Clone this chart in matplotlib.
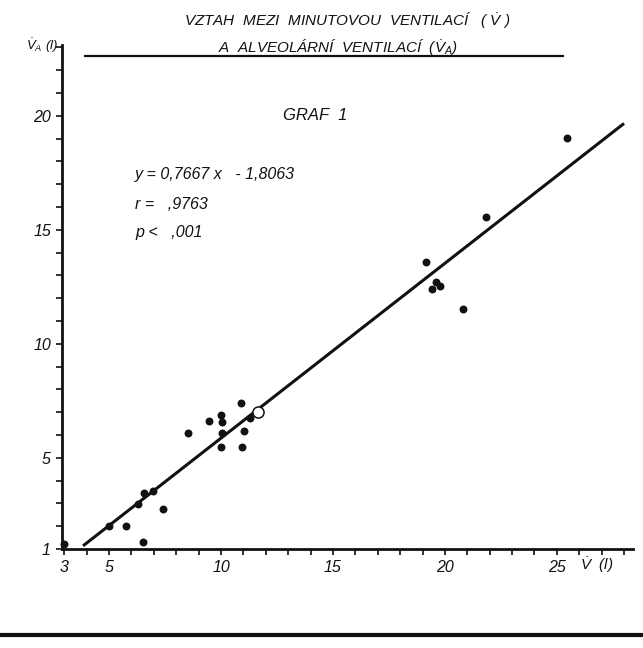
import matplotlib
matplotlib.use("Agg")
import matplotlib.pyplot as plt
import numpy as np

plt.rcParams["mathtext.fontset"] = "custom"
plt.rcParams["mathtext.it"] = "Liberation Sans:italic"
plt.rcParams["mathtext.rm"] = "Liberation Sans:italic"

# minute ventilation V (l) vs alveolar ventilation VA (l)
v_minute = [3.0, 5.0, 5.76, 6.53, 6.31, 6.58, 6.95, 7.42,
            8.53, 9.48, 10.0, 10.06, 10.06, 10.0, 10.89, 10.92, 11.04, 11.3,
            19.14, 19.58, 19.41, 19.79, 20.83, 21.83, 25.46]
v_alveolar = [1.22, 2.0, 2.02, 1.32, 2.96, 3.44, 3.56, 2.74,
              6.07, 6.63, 6.86, 6.57, 6.07, 5.46, 7.39, 5.46, 6.18, 6.73,
              13.6, 12.72, 12.39, 12.52, 11.53, 15.56, 19.03]

# regression y = 0.7667x - 1.8063 and mean point
slope = 0.7667
intercept = -1.8063
line_x = [3.84, 28.0]
mean_point = (11.67, 7.0)

x_ticks = [3, 5, 10, 15, 20, 25]
y_ticks = [1, 5, 10, 15, 20]

W, H = 643, 648
fig = plt.figure(figsize=(W / 100, H / 100), dpi=100)
fig.patch.set_facecolor("white")

def px(x, y):
    return x / W, 1 - y / H

font = dict(family="Liberation Sans", style="italic", color="#111111")

ax = fig.add_axes([62 / W, 1 - 549 / H, (633 - 62) / W, (549 - 45) / H])
ax.set_xlim(2.9, 28.4)
ax.set_ylim(1, 23.1)
for s in ["top", "right"]:
    ax.spines[s].set_visible(False)
for s in ["left", "bottom"]:
    ax.spines[s].set_linewidth(2)
    ax.spines[s].set_color("#111111")

ax.set_xticks(range(3, 29))
ax.set_xticklabels([str(t) if t in x_ticks else "" for t in range(3, 29)])
ax.set_yticks(range(1, 24))
ax.set_yticklabels([str(t) if t in y_ticks else "" for t in range(1, 24)])
ax.tick_params(direction="out", length=4, width=1.2, colors="#111111",
               labelsize=11.5, pad=4)
for lab in ax.get_xticklabels() + ax.get_yticklabels():
    lab.set_fontfamily("Liberation Sans")
    lab.set_fontstyle("italic")

lx = np.array(line_x)
ax.plot(lx, slope * lx + intercept, color="#111111", lw=2.2, solid_capstyle="butt")
ax.scatter(v_minute, v_alveolar, s=22, color="#111111", zorder=3, clip_on=False)
ax.plot(*mean_point, marker="o", ms=8, mfc="white", mec="#111111", mew=1.1, zorder=4)

# titles
fig.text(*px(347, 20), r"VZTAH  MEZI  MINUTOVOU  VENTILACÍ   ( $\dot{V}$ )",
         ha="center", va="center", fontsize=11, **font)
fig.text(*px(338, 47), r"A  ALVEOLÁRNÍ  VENTILACÍ  ($\dot{V}_{A}$)",
         ha="center", va="center", fontsize=11, **font)
fig.add_artist(plt.Line2D([85 / W, 563 / W], [1 - 56 / H, 1 - 56 / H],
                          color="#111111", lw=1.6))

fig.text(*px(315, 116), "GRAF  1", ha="center", va="center", fontsize=12, **font)
fig.text(*px(135, 175), "y = 0,7667 x   - 1,8063", ha="left", va="center",
         fontsize=11.5, **font)
fig.text(*px(135, 204), "r =   ,9763", ha="left", va="center", fontsize=11.5, **font)
fig.text(*px(135, 233), "p <   ,001", ha="left", va="center", fontsize=11.5, **font)

# axis labels
fig.text(*px(26, 46), r"$\dot{V}_{A}$ (l)", ha="left", va="center", fontsize=9.5, **font)
fig.text(*px(580, 565), r"$\dot{V}$  (l)", ha="left", va="center", fontsize=11, **font)

# thick rule at the bottom of the page
fig.add_artist(plt.Line2D([0, 1], [1 - 635 / H, 1 - 635 / H], color="#111111", lw=3))

fig.savefig("out.png", dpi=100, facecolor="white")
